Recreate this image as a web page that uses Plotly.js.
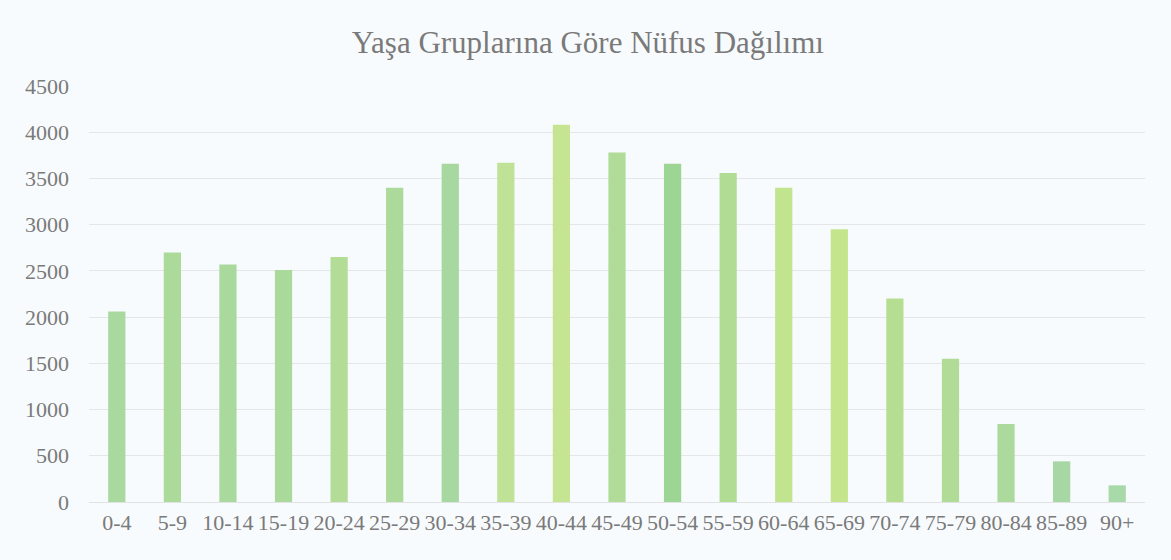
<!DOCTYPE html>
<html>
<head>
<meta charset="utf-8">
<script src="https://cdn.plot.ly/plotly-3.0.1.min.js"></script>
<style>html,body{margin:0;padding:0;background:#f8fbfd;}#chart{width:1171px;height:560px;}</style>
</head>
<body>
<div id="chart"></div>
<script>
const ageGroups = ["0-4","5-9","10-14","15-19","20-24","25-29","30-34","35-39","40-44","45-49","50-54","55-59","60-64","65-69","70-74","75-79","80-84","85-89","90+"];
const population = [2060, 2700, 2570, 2510, 2650, 3400, 3660, 3670, 4080, 3780, 3660, 3560, 3400, 2950, 2200, 1550, 845, 440, 180];
const barColors = ["#a9d99f","#acda9b","#aad99d","#a9d99b","#b3dd97","#acda9b","#a6d8a0","#bfe296","#c6e592","#b0db98","#9cd594","#b1dc94","#c1e48f","#c5e58d","#b6de93","#b1dc98","#abda9c","#a7d8a3","#a8d9a8"];
const yTicks = [0,500,1000,1500,2000,2500,3000,3500,4000,4500];

const font = "'Liberation Serif', 'Times New Roman', serif";
Plotly.newPlot("chart", [{
  type: "bar",
  x: ageGroups,
  y: population,
  marker: {color: barColors},
  hoverinfo: "x+y"
}], {
  width: 1171, height: 560,
  paper_bgcolor: "#f8fbfd",
  plot_bgcolor: "#f8fbfd",
  margin: {l: 89, r: 26, t: 86, b: 58},
  bargap: 0.69,
  showlegend: false,
  title: {text: "Yaşa Gruplarına Göre Nüfus Dağılımı", font: {family: font, size: 31, color: "#7a7a7a"}, x: 0.502, xanchor: "center", y: 0.925, yanchor: "middle"},
  xaxis: {
    type: "category",
    tickangle: 0,
    tickfont: {family: font, size: 22, color: "#7a7a7a"},
    showgrid: false,
    showline: false,
    ticks: "",
    ticklabelstandoff: 5
  },
  yaxis: {
    range: [0, 4500],
    tickvals: yTicks,
    ticktext: yTicks.map(String),
    tickfont: {family: font, size: 22, color: "#7a7a7a"},
    gridcolor: "#e4e6e7",
    gridwidth: 1,
    zeroline: true,
    zerolinecolor: "#e0e2e3",
    zerolinewidth: 1,
    showline: false,
    ticks: "",
    ticklabelstandoff: 19
  }
}, {displayModeBar: false, staticPlot: true});
</script>
</body>
</html>
